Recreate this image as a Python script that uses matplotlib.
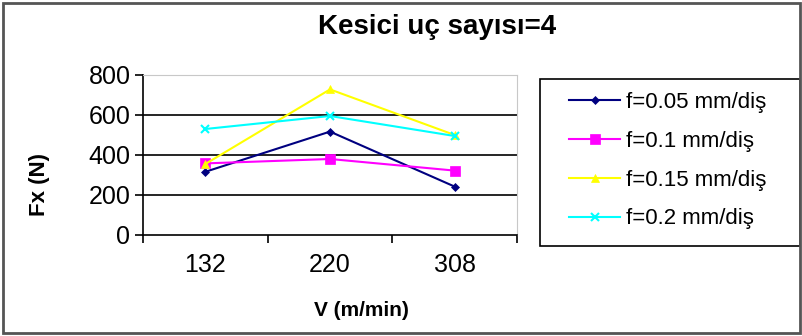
import matplotlib
matplotlib.use("Agg")
import matplotlib.pyplot as plt
from matplotlib.patches import Rectangle

plt.rcParams["font.family"] = ["Liberation Sans", "DejaVu Sans"]

speeds = ["132", "220", "308"]
series_labels = ["f=0.05 mm/diş", "f=0.1 mm/diş", "f=0.15 mm/diş", "f=0.2 mm/diş"]
fx_005 = [316, 517, 242]
fx_010 = [358, 380, 322]
fx_015 = [355, 728, 500]
fx_020 = [530, 595, 495]

COLORS = ["#000080", "#ff00ff", "#ffff00", "#00ffff"]
MARKERS = ["D", "s", "^", "x"]
MSIZES = [4.5, 6.5, 6, 6]

W, H = 803, 336
fig = plt.figure(figsize=(W / 100, H / 100), dpi=100)
ax = fig.add_axes([143 / W, 1 - 235 / H, 374 / W, 160 / H])

x = list(range(len(speeds)))
for vals, lab, c, m, ms in zip([fx_005, fx_010, fx_015, fx_020], series_labels, COLORS, MARKERS, MSIZES):
    ax.plot(x, vals, color=c, marker=m, markersize=ms, lw=1.5, label=lab,
            markeredgewidth=1.5 if m == "x" else 0.5, markeredgecolor=c)

ax.set_xlim(-0.5, 2.5)
ax.set_ylim(0, 800)
ax.set_yticks([0, 200, 400, 600, 800])
ax.set_xticks(x)
ax.set_xticklabels(speeds)
ax.set_xticks([-0.5, 0.5, 1.5, 2.5], minor=True)
ax.tick_params(axis="x", which="major", length=0, labelsize=18, pad=13)
ax.tick_params(axis="x", which="minor", length=6, width=1.2, direction="out")
ax.tick_params(axis="y", length=6, width=1.2, labelsize=18, pad=3)

for yv in [200, 400, 600]:
    ax.axhline(yv, color="black", lw=1.2, zorder=1)
ax.spines["left"].set_linewidth(1.2)
ax.spines["bottom"].set_linewidth(1.2)
ax.spines["top"].set_color("#c8c8c8")
ax.spines["right"].set_color("#c8c8c8")

fig.text(437 / W, 1 - 27 / H, "Kesici uç sayısı=4", ha="center", va="center",
         fontsize=20, fontweight="bold")
fig.text(361 / W, 1 - 311 / H, "V (m/min)", ha="center", va="center",
         fontsize=15, fontweight="bold")
fig.text(40 / W, 1 - 184 / H, "Fx (N)", ha="center", va="center",
         fontsize=16, fontweight="bold", rotation=90)

# legend entries without frame; box drawn separately
leg = fig.legend(loc="upper left", bbox_to_anchor=(569 / W, 1 - 92 / H),
                 fontsize=16, frameon=False, handlelength=2.3, handletextpad=0.25,
                 labelspacing=0.8, borderpad=0, borderaxespad=0)
fig.patches.append(Rectangle((540 / W, 1 - 246 / H), 260 / W, 167 / H, transform=fig.transFigure,
                             fill=False, edgecolor="black", lw=1.2))

# outer chart border
fig.patches.append(Rectangle((3 / W, 3 / H), 797 / W, 330 / H, transform=fig.transFigure,
                             fill=False, edgecolor="#555555", lw=2))

fig.savefig("out.png", dpi=100)
